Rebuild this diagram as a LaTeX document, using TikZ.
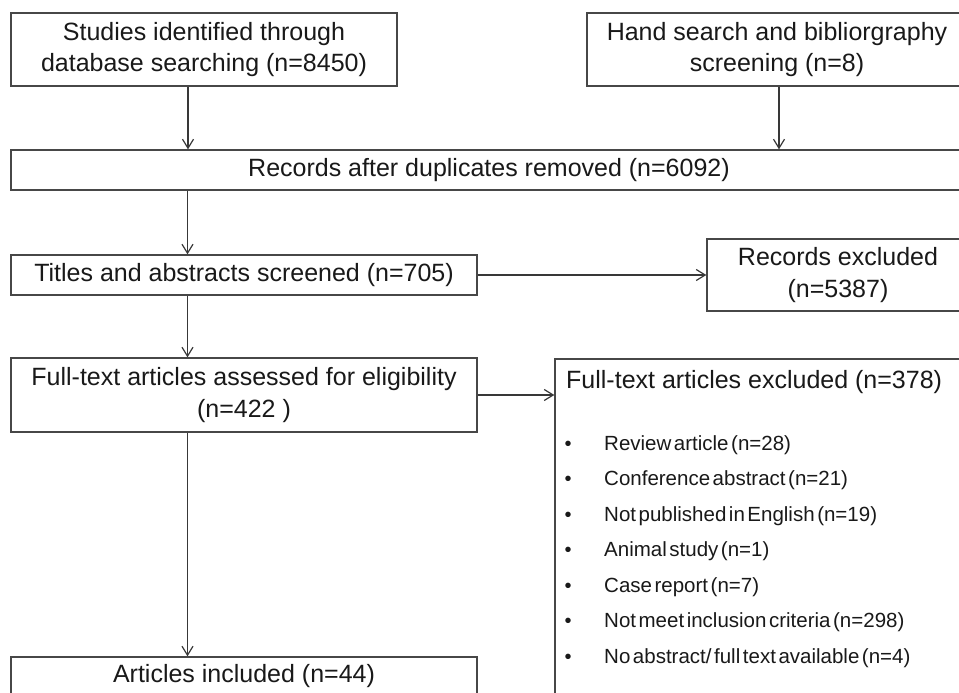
\documentclass[tikz,border=0pt]{standalone}
\usepackage{fontspec}
\setmainfont{Liberation Sans}
\newfontfamily\listfont{Liberation Sans}[WordSpace=0.45]
\usetikzlibrary{arrows.meta}
\tikzset{
  box/.style={draw=black!72, line width=1.3pt, rectangle, inner sep=0pt, align=center,
    text=black!90, font=\fontsize{25}{31.5}\selectfont},
  arr/.style={draw=black!78, line width=1.2pt, -{Straight Barb[length=9pt,width=11pt,line width=1.2pt]}},
  itemtxt/.style={anchor=base west, inner sep=0pt, text=black!90, font=\listfont\fontsize{20.5}{24}\selectfont},
  bul/.style={anchor=base, inner sep=0pt, text=black!90, font=\fontsize{20}{24}\selectfont}
}
\begin{document}
\begin{tikzpicture}[x=1pt,y=-1pt]
\useasboundingbox (0,0) rectangle (959,693);
\clip (0,0) rectangle (959,693);
\fill[white] (0,0) rectangle (959,693);
\node[box, minimum width=386pt, minimum height=73pt] (b1) at (204,49.5) {Studies identified through\\database searching (n=8450)};
\node[box, minimum width=380pt, minimum height=73pt] (b2) at (777,49.5) {Hand search and bibliorgraphy\\screening (n=8)};
\node[box, minimum width=956pt, minimum height=40pt] (b3) at (489,170) {Records after duplicates removed (n=6092)};
\node[box, minimum width=466pt, minimum height=40pt] (b4) at (244,275) {Titles and abstracts screened (n=705)};
\node[box, minimum width=262pt, minimum height=72pt] (rx) at (838,275) {Records excluded\\(n=5387)};
\node[box, minimum width=466pt, minimum height=74pt] (b5) at (244,395) {Full-text articles assessed for eligibility\\(n=422 )};
\node[box, minimum width=420pt, minimum height=361pt] (ex) at (765,539.5) {};
\node[box, minimum width=466pt, minimum height=38pt] (b6) at (244,676) {Articles included (n=44)};
\node[anchor=base west, inner sep=0pt, text=black!90, font=\fontsize{25}{30}\selectfont] (exh) at (566,388) {Full-text articles excluded (n=378)};
\foreach \i/\y/\t in {1/450/{Review article (n=28)},2/485.5/{Conference abstract (n=21)},3/521/{Not published in English (n=19)},4/556.5/{Animal study (n=1)},5/592/{Case report (n=7)},6/627.5/{Not meet inclusion criteria (n=298)},7/663/{No abstract/ full text available (n=4)}}{
  \node[bul] (bu\i) at (568,\y) {\textbullet};
  \node[itemtxt] (it\i) at (604,\y) {\t};
}
\coordinate (cA) at (188,0);
\coordinate (cL) at (187.5,0);
\coordinate (cR) at (779,0);
\draw[arr] (b1.south -| cA) -- (b3.north -| cA);
\draw[arr] (b2.south -| cR) -- (b3.north -| cR);
\draw[arr] (b3.south -| cL) -- (b4.north -| cL);
\draw[arr] (b4.east) -- (b4.east -| rx.west);
\draw[arr] (b4.south -| cL) -- (b5.north -| cL);
\draw[arr] (b5.east) -- (b5.east -| ex.west);
\draw[arr] (b5.south -| cL) -- (b6.north -| cL);
\end{tikzpicture}
\end{document}
